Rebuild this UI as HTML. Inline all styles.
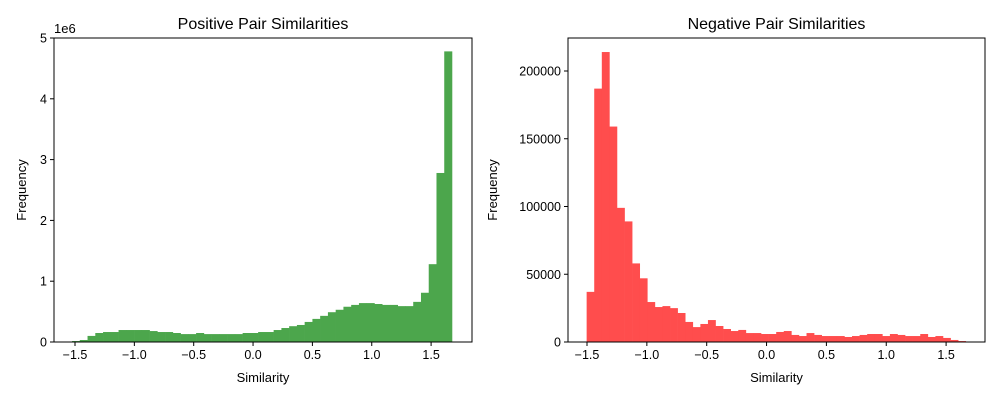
<!DOCTYPE html>
<html><head><meta charset="utf-8"><style>
body{margin:0;background:#fff;}
svg text{font-family:"Liberation Sans","DejaVu Sans",sans-serif;fill:#000;}
</style></head><body>
<svg id="chart" width="1000" height="400" xmlns="http://www.w3.org/2000/svg"></svg>
<script>
const xTicks=[-1.5,-1.0,-0.5,0.0,0.5,1.0,1.5];
const posYTicks=[0,1,2,3,4,5];
const negYTicks=[0,50000,100000,150000,200000];
const posValues=[0.016,0.033,0.1,0.148,0.164,0.164,0.197,0.197,0.197,0.197,0.18,0.164,0.164,0.148,0.13,0.13,0.148,0.13,0.13,0.13,0.13,0.13,0.148,0.148,0.164,0.164,0.197,0.23,0.26,0.28,0.33,0.38,0.43,0.49,0.53,0.58,0.61,0.64,0.64,0.625,0.61,0.61,0.59,0.59,0.66,0.81,1.28,2.78,4.78];
const posRange=[-1.525,1.676];
const negValues=[37000,187000,214000,159000,99000,89000,58000,47000,29500,25800,26500,25000,21400,14800,11000,13300,16200,11800,9600,8100,8900,6600,6600,5900,5900,7400,8100,5200,4400,6600,5200,4400,4400,4400,3700,4400,5200,5900,5900,4400,5900,5200,4400,4400,5900,3700,4400,3000,1500,700];
const negRange=[-1.503,1.664];

const svg=document.getElementById('chart');
const NS='http://www.w3.org/2000/svg';
function mk(tag,attrs,parent){const e=document.createElementNS(NS,tag);for(const k in attrs)e.setAttribute(k,attrs[k]);(parent||svg).appendChild(e);return e;}
function txt(s,attrs,parent){const e=mk('text',attrs,parent);e.textContent=s;return e;}

function panel(cfg){
  const g=mk('g',{});
  
  
  const L=cfg.left,R=cfg.right,T=38,B=342;
  const xs=v=>cfg.x0px+(v+1.5)*cfg.xppu;
  const ys=v=>B-(v/cfg.ymax)*(B-cfg.ymaxPx);
  const n=cfg.values.length,w=(cfg.range[1]-cfg.range[0])/n;
  cfg.values.forEach((v,i)=>{
    const x1=xs(cfg.range[0]+i*w),x2=xs(cfg.range[0]+(i+1)*w);
    const r=mk('rect',{x:x1,y:ys(v),width:x2-x1+0.3,height:B-ys(v),fill:cfg.color},g);
    
    
  });
  const fr=mk('rect',{x:L,y:T,width:R-L,height:B-T,fill:'none',stroke:'#000','stroke-width':1},g);
  
  
  xTicks.forEach(t=>{
    const x=xs(t);
    mk('line',{x1:x,y1:B,x2:x,y2:B+4,stroke:'#000'},g);
    const tl=txt(t.toFixed(1).replace('-','\u2212'),{x:x,y:B+17,'font-size':12.5,'text-anchor':'middle'},g);
    
    
  });
  cfg.yticks.forEach(t=>{
    const y=ys(t);
    mk('line',{x1:L-4,y1:y,x2:L,y2:y,stroke:'#000'},g);
    const tl=txt(String(t),{x:L-7,y:y+4.5,'font-size':12.5,'text-anchor':'end'},g);
    
    
  });
  const ti=txt(cfg.title,{x:(L+R)/2,y:29,'font-size':16,'text-anchor':'middle'},g);
  
  
  const xl=txt('Similarity',{x:(L+R)/2,y:382,'font-size':13,'text-anchor':'middle'},g);
  
  
  const yl=txt('Frequency',{x:0,y:0,'font-size':13,'text-anchor':'middle',transform:`translate(${cfg.ylabX},190) rotate(-90)`},g);
  
  
  if(cfg.offset){
    const o=txt(cfg.offset,{x:L,y:33,'font-size':13},g);
    
    
  }
}
panel({name:'positive-pair-panel',left:54,right:472,x0px:75,xppu:118.7,ymax:5,ymaxPx:38,values:posValues,range:posRange,yticks:posYTicks,color:'#4ca64c',title:'Positive Pair Similarities',ylabX:26,offset:'1e6'});
panel({name:'negative-pair-panel',left:568,right:985,x0px:587,xppu:119.7,ymax:200000,ymaxPx:71,values:negValues,range:negRange,yticks:negYTicks,color:'#ff4d4d',title:'Negative Pair Similarities',ylabX:497});
</script>
</body></html>
